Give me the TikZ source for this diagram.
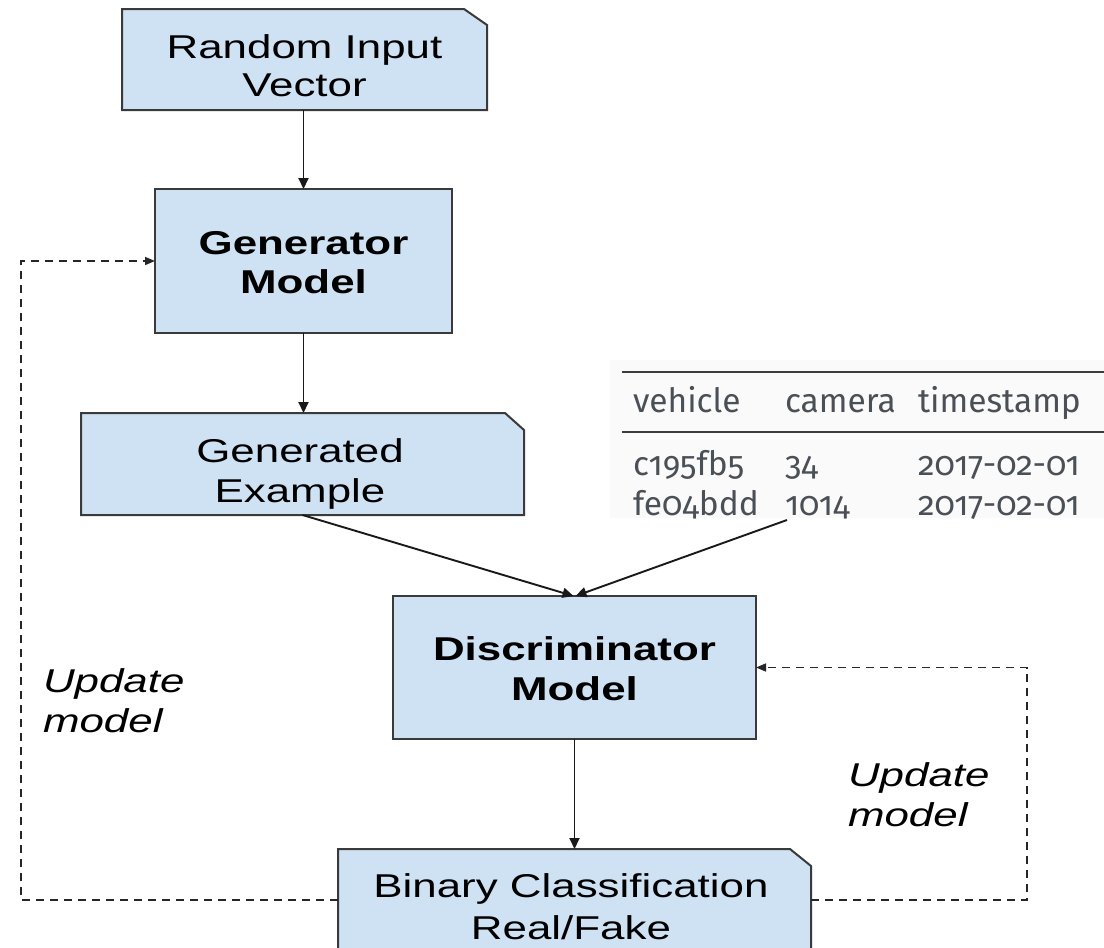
\documentclass[tikz,border=0pt]{standalone}
\usepackage{fontspec}
\setmainfont{Liberation Sans}
\newfontfamily\tabfont[Numbers=OldStyle]{Fira Sans}
\usetikzlibrary{arrows.meta,backgrounds}
\definecolor{boxfill}{HTML}{CFE2F3}
\definecolor{boxedge}{HTML}{3A3A3A}
\definecolor{tabtext}{HTML}{4A5056}
\definecolor{tabrule}{HTML}{3C3C3C}
\definecolor{tabbg}{HTML}{FAFAFA}
% two-line label, widened horizontally
\newcommand{\boxtext}[2][c]{\scalebox{1.33}[1]{\begin{tabular}{@{}#1@{}}#2\end{tabular}}}
\tikzset{
  lbl/.style={inner sep=0pt, outer sep=0pt, font=\fontsize{33}{40}\selectfont},
  frame/.style={draw=boxedge, line width=2pt, fill=boxfill, line join=miter},
  area/.style={inner sep=0pt, outer sep=0pt, draw=none},
  plainbox/.style={area, frame},
  arr/.style={line width=1.9pt, draw=black!90, -{Triangle[length=11pt,width=10pt]}},
  upd/.style={line width=1.6pt, draw=black!85, dash pattern=on 8pt off 6pt,
              -{Triangle[length=10pt,width=8pt]}},
  tab/.style={inner sep=0pt, outer sep=0pt, anchor=base west, text=tabtext,
              font=\tabfont\fontsize{33.5}{40}\selectfont},
}
\begin{document}
\begin{tikzpicture}[x=1pt,y=-1pt]
\useasboundingbox (0,0) rectangle (1104,948);
\clip (0,0) rectangle (1104,948);

% box areas
\node[area, minimum width=365pt, minimum height=101pt] (rin) at (304.5,59.5) {};
\node[plainbox, minimum width=297pt, minimum height=144pt] (gen) at (303.5,261) {};
\node[area, minimum width=443pt, minimum height=102pt] (gex) at (302.5,464) {};
\node[plainbox, minimum width=363pt, minimum height=143pt] (dis) at (574.5,667.5) {};
\node[area, minimum width=473pt, minimum height=114pt] (bin) at (574.5,906) {};

% page and folded-corner boxes
\begin{scope}[on background layer]
  \fill[white] (0,0) rectangle (1104,948);
  \draw[frame] (rin.south west) -- (rin.north west) -- ([xshift=-23pt]rin.north east)
     -- ([yshift=-16pt]rin.north east) -- (rin.south east) -- cycle;
  \draw[frame] (gex.south west) -- (gex.north west) -- ([xshift=-19pt]gex.north east)
     -- ([yshift=-17pt]gex.north east) -- (gex.south east) -- cycle;
  \draw[frame] (bin.south west) -- (bin.north west) -- ([xshift=-21pt]bin.north east)
     -- ([yshift=-17pt]bin.north east) -- (bin.south east) -- cycle;
\end{scope}

% box labels
\node[lbl] (rin-t) at (304.5,70) {\fontsize{33}{38}\selectfont\boxtext{Random Input\\Vector}};
\node[lbl, font=\bfseries\fontsize{33}{39}\selectfont] (gen-t) at (303.5,266.5) {\boxtext{Generator\\Model}};
\node[lbl] (gex-t) at (300,474) {\boxtext{Generated\\Example}};
\node[lbl, font=\bfseries\fontsize{33}{40}\selectfont] (dis-t) at (574.5,672) {\boxtext{Discriminator\\Model}};
\node[lbl, font=\fontsize{33}{42}\selectfont] (bin-t) at (571,910) {\boxtext{Binary Classification\\Real/Fake}};

% feedback labels
\node[lbl, anchor=west, font=\itshape\fontsize{33}{40}\selectfont] (updL) at (43,704) {\boxtext[l]{Update\\model}};
\node[lbl, anchor=west, font=\itshape\fontsize{33}{40}\selectfont] (updR) at (848,798) {\boxtext[l]{Update\\model}};

% data table excerpt
\fill[tabbg] (610,360) rectangle (1104,518);
\draw[tabrule, line width=2.5pt] (622,372) -- (1104,372);
\draw[tabrule, line width=2pt] (622,432) -- (1104,432);
\node[tab] (h1) at (633,412) {vehicle};
\node[tab] (h2) at (785,412) {camera};
\node[tab] (h3) at (918,412) {timestamp};
\node[tab] (a1) at (633,475) {c195fb5};
\node[tab] (a2) at (785,475) {34};
\node[tab] (a3) at (918,475) {2017-02-01};
\node[tab] (b1) at (633,515) {fe04bdd};
\node[tab] (b2) at (785,515) {1014};
\node[tab] (b3) at (918,515) {2017-02-01};
\coordinate (tabfoot) at (787,520);

% main flow
\draw[arr] (gen.north |- rin.south) -- (gen.north);
\draw[arr] (gen.south) -- (gen.south |- gex.north);
\draw[arr] (gex.south) -- ([xshift=-1pt]dis.north);
\draw[arr] (tabfoot) -- ([xshift=1pt]dis.north);
\draw[arr] (dis.south) -- (bin.north);

% update loops
\coordinate (loopL) at (21,900);
\coordinate (loopR) at (1027,900);
\draw[upd] (bin.west |- loopL) -- (loopL) |- (gen.west);
\draw[upd] (bin.east |- loopR) -- (loopR) |- (dis.east);
\end{tikzpicture}
\end{document}
